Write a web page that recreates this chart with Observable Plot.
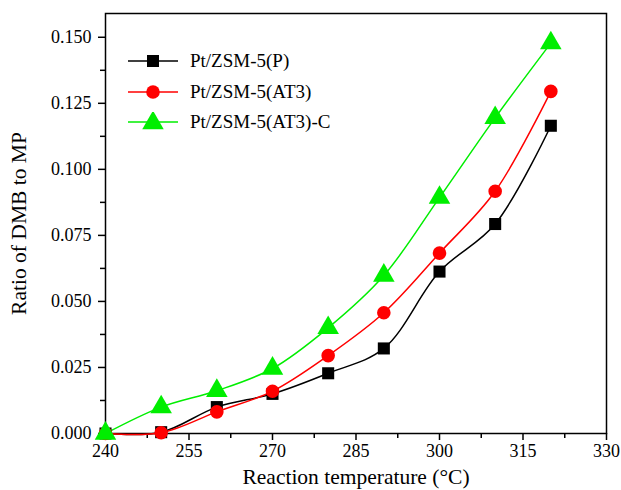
<!DOCTYPE html>
<html><head><meta charset="utf-8">
<script src="https://cdn.jsdelivr.net/npm/d3@7"></script>
<script src="https://cdn.jsdelivr.net/npm/@observablehq/plot@0.6"></script>
<style>
body{margin:0;background:#fff;font-family:"Liberation Serif","Times New Roman",serif;}
#wrap{position:relative;width:621px;height:490px;}
#chart svg text{font-family:"Liberation Serif","Times New Roman",serif;}
#legend{position:absolute;left:128px;top:46px;font-size:19px;}
.li{display:flex;align-items:center;height:30.5px;}
.li span{margin-left:12px;}
</style></head>
<body><div id="wrap"><div id="chart"></div><div id="legend"></div></div>
<script>
const temps = [240, 250, 260, 270, 280, 290, 300, 310, 320];
const seriesNames = ["Pt/ZSM-5(P)", "Pt/ZSM-5(AT3)", "Pt/ZSM-5(AT3)-C"];
const valuesP = [0.000, 0.0005, 0.010, 0.015, 0.0228, 0.0322, 0.0613, 0.0793, 0.1165];
const valuesAT3 = [0.000, 0.0003, 0.0082, 0.0160, 0.0295, 0.0457, 0.0683, 0.0917, 0.1295];
const valuesAT3C = [0.000, 0.0100, 0.0162, 0.0246, 0.0400, 0.0598, 0.0893, 0.1195, 0.1478];
const colors = ["#000000", "#ff0000", "#00ee00"];
const symbols = ["square", "circle", "triangle"];
const xTicks = [240, 255, 270, 285, 300, 315, 330];
const xMinor = [247.5, 262.5, 277.5, 292.5, 307.5, 322.5];
const yTicks = [0, 0.025, 0.05, 0.075, 0.1, 0.125, 0.15];
const yMinor = [0.0125, 0.0375, 0.0625, 0.0875, 0.1125, 0.1375];

const allValues = [valuesP, valuesAT3, valuesAT3C];
const data = [];
allValues.forEach((vals, i) => vals.forEach((v, j) => data.push({x: temps[j], y: v, s: seriesNames[i]})));

const font = "Liberation Serif, Times New Roman, serif";
const marks = [];
allValues.forEach((vals, i) => {
  const d = data.filter(r => r.s === seriesNames[i]);
  marks.push(Plot.line(d, {x: "x", y: "y", stroke: colors[i], strokeWidth: 1.5, curve: "catmull-rom"}));
});
allValues.forEach((vals, i) => {
  const d = data.filter(r => r.s === seriesNames[i]);
  const r = i === 2 ? 8 : 6.8;
  marks.push(Plot.dot(d, {x: "x", y: "y", fill: colors[i], stroke: "none", symbol: () => symbols[i], r}));
});

const chart = Plot.plot({
  width: 621, height: 490,
  marginLeft: 105, marginRight: 15, marginTop: 13, marginBottom: 57,
  style: {fontFamily: font, fontSize: "18px", color: "#000", background: "#fff"},
  x: {domain: [240, 330]},
  y: {domain: [0, 0.159]},
  marks: [
    Plot.axisX({ticks: xMinor, tickSize: 5, text: null, label: null, strokeWidth: 1.5}),
    Plot.axisX({ticks: xTicks, tickSize: 7, tickPadding: 4, strokeWidth: 1.5, fontFamily: font, fontSize: 18, label: "Reaction temperature (°C)", labelAnchor: "center", labelArrow: "none", labelOffset: 50}),
    Plot.axisY({ticks: yMinor, tickSize: 5, text: null, label: null, strokeWidth: 1.5}),
    Plot.axisY({ticks: yTicks, tickSize: 7, tickPadding: 7, tickFormat: d3.format(".3f"), strokeWidth: 1.5, fontFamily: font, fontSize: 18, label: "Ratio of DMB to MP", labelAnchor: "center", labelArrow: "none", labelOffset: 95}),
    Plot.frame({stroke: "#000", strokeWidth: 1.5}),
    ...marks
  ]
});
chart.querySelectorAll('g[aria-label="x-axis label"] text, g[aria-label="y-axis label"] text').forEach(t => t.style.fontSize = "21.5px");
document.getElementById("chart").appendChild(chart);

const legend = document.getElementById("legend");
seriesNames.forEach((name, i) => {
  const sym = d3.symbol(i === 0 ? d3.symbolSquare : i === 1 ? d3.symbolCircle : d3.symbolTriangle, i === 2 ? 200 : 145)();
  const div = document.createElement("div");
  div.className = "li";
  div.innerHTML = `<svg width="50" height="20"><line x1="0" x2="50" y1="10" y2="10" stroke="${colors[i]}" stroke-width="1.5"/><path d="${sym}" transform="translate(25,${i===2?11:10})" fill="${colors[i]}"/></svg><span>${name}</span>`;
  legend.appendChild(div);
});
</script></body></html>
